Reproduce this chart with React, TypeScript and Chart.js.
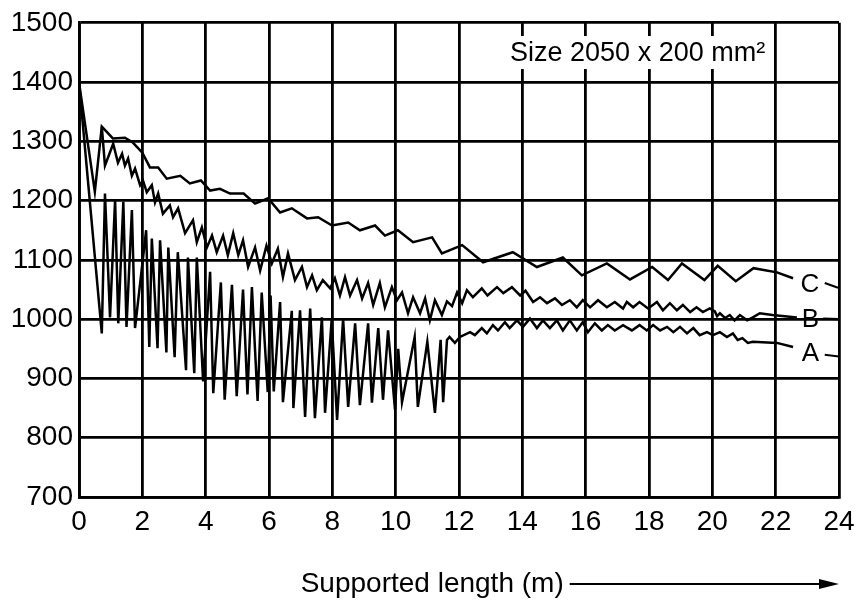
import { useEffect, useRef } from 'react';
import { Chart, registerables } from 'chart.js';
Chart.register(...registerables);

const X_TICKS = [0, 2, 4, 6, 8, 10, 12, 14, 16, 18, 20, 22, 24];
const Y_TICKS = [700, 800, 900, 1000, 1100, 1200, 1300, 1400, 1500];

const C_X = [0, 0.5, 0.72, 1.07, 1.45, 1.7, 2.0, 2.24, 2.5, 2.77, 3.2, 3.5, 3.85, 4.14, 4.45, 4.77, 5.2, 5.56, 5.97, 6.35, 6.72, 7.2, 7.55, 7.99, 8.5, 8.87, 9.35, 9.66, 10.07, 10.55, 11.15, 11.46, 12.1, 12.76, 13.7, 14.46, 15.28, 15.88, 16.67, 17.4, 18.1, 18.6, 19.04, 19.75, 20.17, 20.74, 21.3, 22.04, 22.55];
const C_Y = [1400, 1215, 1325, 1305, 1306, 1298, 1281, 1256, 1256, 1237, 1242, 1229, 1234, 1217, 1220, 1212, 1212, 1195, 1204, 1180, 1187, 1170, 1172, 1158, 1163, 1150, 1158, 1141, 1150, 1130, 1138, 1111, 1125, 1096, 1113, 1088, 1104, 1074, 1094, 1067, 1088, 1066, 1094, 1066, 1090, 1064, 1086, 1079, 1069];

const B_X = [0.72, 0.82, 1.08, 1.23, 1.36, 1.45, 1.55, 1.67, 1.77, 1.93, 2.02, 2.14, 2.3, 2.4, 2.5, 2.65, 2.87, 2.97, 3.13, 3.35, 3.6, 3.72, 3.88, 4.04, 4.2, 4.35, 4.55, 4.7, 4.87, 5.03, 5.18, 5.34, 5.56, 5.72, 5.92, 6.09, 6.28, 6.44, 6.6, 6.82, 7.04, 7.2, 7.36, 7.51, 7.7, 7.93, 8.08, 8.24, 8.4, 8.56, 8.78, 8.94, 9.13, 9.29, 9.5, 9.66, 9.88, 10.04, 10.2, 10.39, 10.55, 10.77, 10.93, 11.08, 11.24, 11.46, 11.62, 11.78, 11.94, 12.1, 12.25, 12.44, 12.72, 12.9, 13.2, 13.4, 13.67, 13.93, 14.1, 14.34, 14.56, 14.78, 15.03, 15.25, 15.5, 15.72, 15.91, 16.14, 16.39, 16.67, 16.92, 17.18, 17.3, 17.5, 17.7, 17.97, 18.25, 18.44, 18.66, 18.88, 19.07, 19.3, 19.5, 19.7, 19.92, 20.08, 20.15, 20.24, 20.4, 20.55, 20.7, 20.87, 21.1, 21.28, 21.5, 21.9, 22.67];
const B_Y = [1325, 1259, 1296, 1264, 1279, 1259, 1271, 1242, 1254, 1226, 1234, 1214, 1226, 1197, 1212, 1178, 1192, 1172, 1187, 1145, 1167, 1130, 1155, 1121, 1141, 1113, 1141, 1108, 1145, 1108, 1133, 1088, 1121, 1082, 1124, 1094, 1119, 1071, 1111, 1066, 1088, 1054, 1074, 1049, 1066, 1052, 1069, 1040, 1071, 1040, 1066, 1035, 1061, 1024, 1061, 1020, 1054, 1032, 1045, 1010, 1037, 1010, 1035, 998, 1032, 1007, 1030, 1022, 1045, 1027, 1049, 1037, 1052, 1040, 1054, 1044, 1054, 1040, 1048, 1029, 1037, 1027, 1035, 1024, 1032, 1020, 1032, 1020, 1032, 1020, 1029, 1018, 1029, 1020, 1029, 1018, 1029, 1015, 1027, 1015, 1024, 1012, 1020, 1012, 1018, 1013, 1005, 1010, 1002, 1007, 998, 1007, 998, 1003, 1010, 1007, 1003];

const A_X = [0, 0.72, 0.82, 0.98, 1.14, 1.24, 1.4, 1.5, 1.67, 1.77, 2.12, 2.22, 2.3, 2.48, 2.56, 2.76, 2.82, 3.02, 3.12, 3.38, 3.44, 3.64, 3.72, 3.92, 4.14, 4.24, 4.48, 4.6, 4.83, 4.98, 5.18, 5.32, 5.46, 5.64, 5.77, 5.96, 6.05, 6.15, 6.35, 6.44, 6.72, 6.77, 6.98, 7.14, 7.3, 7.45, 7.67, 7.77, 7.98, 8.15, 8.34, 8.5, 8.72, 8.87, 9.13, 9.25, 9.45, 9.6, 9.76, 9.98, 10.08, 10.2, 10.6, 10.7, 11.0, 11.24, 11.42, 11.5, 11.62, 11.7, 11.87, 12.03, 12.35, 12.5, 12.72, 12.88, 13.07, 13.23, 13.45, 13.6, 13.83, 14.02, 14.24, 14.46, 14.65, 14.87, 15.09, 15.28, 15.5, 15.72, 15.91, 16.07, 16.29, 16.51, 16.7, 16.92, 17.18, 17.46, 17.7, 17.93, 18.13, 18.35, 18.57, 18.77, 18.98, 19.2, 19.4, 19.6, 19.83, 20.02, 20.24, 20.46, 20.65, 20.8, 20.95, 21.12, 21.28, 22.04, 22.55];
const A_Y = [1400, 976, 1212, 1003, 1202, 993, 1198, 987, 1184, 985, 1150, 953, 1136, 951, 1133, 944, 1121, 936, 1113, 914, 1104, 909, 1104, 895, 1080, 875, 1062, 864, 1058, 870, 1050, 873, 1054, 862, 1045, 877, 1040, 878, 1029, 860, 1014, 850, 1015, 835, 1018, 833, 1003, 842, 1000, 830, 1001, 852, 993, 855, 993, 859, 985, 864, 981, 847, 950, 860, 970, 852, 962, 842, 965, 860, 965, 970, 960, 970, 978, 973, 985, 976, 990, 981, 995, 985, 998, 987, 1001, 985, 998, 985, 998, 981, 998, 981, 995, 978, 993, 981, 990, 981, 990, 981, 990, 981, 990, 981, 987, 978, 987, 976, 985, 973, 978, 973, 978, 970, 976, 965, 968, 960, 962, 960, 953];

const CURVE_LABELS = ['C', 'B', 'A'];
const LABEL_X = [23.08, 23.1, 23.1];
const LABEL_Y = [1060, 1000, 943];
const TAIL_X = [[23.55, 23.97], [23.5, 24], [23.55, 24]];
const TAIL_Y = [[1061, 1053], [1001, 1000], [940, 937]];

const NOTE = 'Size 2050 x 200 mm\u00B2';
const NOTE_X = 17.64;
const NOTE_Y = 1449;
const X_TITLE = 'Supported length (m)';
const X_TITLE_START = 7;

const FONT = "'Liberation Sans', Arial, Helvetica, sans-serif";

const pts = (xs: number[], ys: number[]) => xs.map((x, i) => ({ x, y: ys[i] }));

const annotPlugin = {
  id: 'annot',
  afterDatasetsDraw(chart: any) {
    const { ctx, scales, chartArea } = chart;
    const xs = scales.x;
    const ys = scales.y;
    ctx.save();
    ctx.fillStyle = '#000';
    ctx.font = `26px ${FONT}`;
    ctx.textAlign = 'center';
    ctx.textBaseline = 'middle';
    CURVE_LABELS.forEach((t, i) => {
      ctx.fillText(t, xs.getPixelForValue(LABEL_X[i]), ys.getPixelForValue(LABEL_Y[i]) + 1);
    });
    ctx.font = `27px ${FONT}`;
    const w = ctx.measureText(NOTE).width;
    const cx = xs.getPixelForValue(NOTE_X);
    const cy = ys.getPixelForValue(NOTE_Y);
    ctx.fillStyle = '#fff';
    ctx.fillRect(cx - w / 2 - 6, cy - 17, w + 12, 33);
    ctx.fillStyle = '#000';
    ctx.fillText(NOTE, cx, cy + 1);
    ctx.font = `28px ${FONT}`;
    ctx.textAlign = 'left';
    ctx.textBaseline = 'alphabetic';
    const tx = xs.getPixelForValue(X_TITLE_START);
    const by = chartArea.bottom + 95;
    ctx.fillText(X_TITLE, tx, by);
    const tw = ctx.measureText(X_TITLE).width;
    const ay = by - 8;
    const ax1 = tx + tw + 6;
    const ax2 = chartArea.right;
    ctx.strokeStyle = '#000';
    ctx.lineWidth = 2;
    ctx.beginPath();
    ctx.moveTo(ax1, ay);
    ctx.lineTo(ax2 - 10, ay);
    ctx.stroke();
    ctx.beginPath();
    ctx.moveTo(ax2, ay);
    ctx.lineTo(ax2 - 20, ay - 5);
    ctx.lineTo(ax2 - 20, ay + 5);
    ctx.closePath();
    ctx.fill();
    ctx.restore();
  },
};

export default function App() {
  const ref = useRef<HTMLCanvasElement>(null);
  useEffect(() => {
    document.body.style.margin = '0';
    const canvas = ref.current!;
    const line = (data: any[], lw = 2.5) => ({
      data,
      borderColor: '#000',
      borderWidth: lw,
      pointRadius: 0,
      tension: 0,
      fill: false,
    });
    const chart = new Chart(canvas, {
      type: 'line',
      data: {
        datasets: [
          line(pts(C_X, C_Y)),
          line(pts(B_X, B_Y)),
          line(pts(A_X, A_Y), 2.5),
          ...TAIL_X.map((tx, i) => line(pts(tx, TAIL_Y[i]), 2.2)),
        ],
      },
      options: {
        animation: false,
        responsive: false,
        devicePixelRatio: 1,
        layout: { padding: { left: 0, right: 16, top: 22, bottom: 0 } },
        plugins: { legend: { display: false }, tooltip: { enabled: false } },
        scales: {
          x: {
            type: 'linear',
            min: 0,
            max: 24,
            afterBuildTicks: (s: any) => { s.ticks = X_TICKS.map((v) => ({ value: v })); },
            afterFit: (s: any) => { s.height = 103; s.paddingRight = 16; s.paddingLeft = 0; },
            ticks: { color: '#000', font: { family: FONT, size: 28 }, padding: 8, maxRotation: 0, autoSkip: false, callback: (v: any) => String(v) },
            grid: { color: '#000', lineWidth: 2.8, drawTicks: false },
            border: { color: '#000', width: 2.8 },
          },
          y: {
            type: 'linear',
            min: 700,
            max: 1500,
            afterBuildTicks: (s: any) => { s.ticks = Y_TICKS.map((v) => ({ value: v })); },
            afterFit: (s: any) => { s.width = 79; },
            ticks: { color: '#000', font: { family: FONT, size: 28 }, padding: 6, autoSkip: false, callback: (v: any) => String(v) },
            grid: { color: '#000', lineWidth: 2.8, drawTicks: false },
            border: { color: '#000', width: 2.8 },
          },
        },
      },
      plugins: [annotPlugin],
    });
    return () => chart.destroy();
  }, []);
  return (
    <div style={{ width: 855, height: 600, position: 'relative', background: '#fff' }}>
      <canvas ref={ref} width={855} height={600} style={{ display: 'block' }} />
    </div>
  );
}
